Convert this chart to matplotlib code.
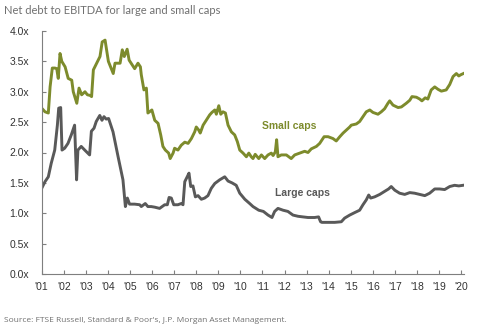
import matplotlib
matplotlib.use("Agg")
import matplotlib.pyplot as plt

# decimal years (offset from 2001) and net debt / EBITDA values
small_t = [0.00, 0.15, 0.30, 0.38, 0.48, 0.60, 0.68, 0.75, 0.83, 0.91, 1.06, 1.20, 1.36, 1.43,
           1.59, 1.69, 1.81, 1.96, 2.07, 2.19, 2.26, 2.34, 2.49, 2.64, 2.74, 2.87, 2.94, 3.02,
           3.24, 3.32, 3.55, 3.65, 3.74, 3.87, 3.96, 4.21, 4.36, 4.47, 4.51, 4.63, 4.74, 4.81,
           4.99, 5.12, 5.27, 5.39, 5.49, 5.60, 5.75, 5.82, 5.95, 6.02, 6.17, 6.32, 6.48, 6.63,
           6.78, 6.93, 7.00, 7.11, 7.18, 7.31, 7.45, 7.61, 7.71, 7.84, 7.91, 8.02, 8.11, 8.21,
           8.32, 8.44, 8.59, 8.74, 8.86, 8.97, 9.12, 9.27, 9.38, 9.49, 9.57, 9.67, 9.83, 9.95,
           10.10, 10.25, 10.40, 10.48, 10.58, 10.64, 10.70, 10.85, 11.08, 11.30, 11.46, 11.68,
           11.91, 12.06, 12.21, 12.44, 12.59, 12.79, 12.97, 13.19, 13.34, 13.50, 13.65, 13.80,
           13.95, 14.02, 14.25, 14.40, 14.55, 14.70, 14.86, 15.00, 15.23, 15.38, 15.53, 15.68,
           15.76, 15.91, 16.14, 16.29, 16.51, 16.67, 16.77, 16.97, 17.12, 17.22, 17.37, 17.49,
           17.64, 17.80, 17.95, 18.10, 18.32, 18.48, 18.63, 18.78, 18.89, 18.98, 19.10]
small_v = [2.73, 2.67, 2.65, 3.08, 3.39, 3.39, 3.38, 3.22, 3.63, 3.50, 3.41, 3.22, 3.19, 3.00,
           2.81, 3.06, 2.95, 3.00, 2.95, 2.94, 2.92, 3.36, 3.47, 3.58, 3.82, 3.85, 3.69, 3.50,
           3.30, 3.47, 3.47, 3.69, 3.58, 3.70, 3.52, 3.38, 3.47, 3.41, 3.28, 3.03, 3.06, 2.65,
           2.70, 2.53, 2.48, 2.29, 2.10, 2.04, 1.99, 1.90, 1.99, 2.07, 2.04, 2.12, 2.17, 2.15,
           2.23, 2.34, 2.42, 2.37, 2.32, 2.45, 2.53, 2.62, 2.66, 2.70, 2.63, 2.77, 2.63, 2.67,
           2.65, 2.45, 2.34, 2.29, 2.18, 2.04, 1.99, 1.93, 1.99, 1.93, 1.90, 1.97, 1.90, 1.96,
           1.90, 1.96, 1.99, 1.95, 2.01, 2.21, 1.93, 1.96, 1.96, 1.90, 1.96, 1.99,
           2.02, 2.00, 2.06, 2.10, 2.15, 2.26, 2.26, 2.23, 2.19, 2.26, 2.32, 2.37,
           2.42, 2.45, 2.47, 2.51, 2.59, 2.67, 2.70, 2.66, 2.63, 2.67, 2.72, 2.81,
           2.85, 2.78, 2.74, 2.75, 2.81, 2.86, 2.92, 2.91, 2.88, 2.85, 2.90, 2.88,
           3.03, 3.08, 3.04, 3.01, 3.03, 3.12, 3.25, 3.30, 3.26, 3.28, 3.30]

large_t = [0.00, 0.15, 0.30, 0.43, 0.59, 0.71, 0.77, 0.86, 0.92, 1.04, 1.19, 1.34, 1.49, 1.58,
           1.64, 1.79, 1.95, 2.17, 2.25, 2.37, 2.47, 2.63, 2.73, 2.82, 2.92, 3.03, 3.23, 3.46,
           3.68, 3.79, 3.88, 3.98, 4.21, 4.44, 4.51, 4.69, 4.81, 4.96, 5.12, 5.34, 5.57, 5.69,
           5.77, 5.87, 5.98, 6.17, 6.32, 6.40, 6.48, 6.59, 6.67, 6.75, 6.85, 6.96, 7.08, 7.23,
           7.38, 7.53, 7.68, 7.84, 8.06, 8.29, 8.44, 8.62, 8.81, 8.97, 9.20, 9.42, 9.57, 9.83,
           10.04, 10.25, 10.43, 10.55, 10.70, 10.93, 11.15, 11.38, 11.61, 11.83, 12.06, 12.36,
           12.54, 12.63, 12.69, 12.97, 13.27, 13.57, 13.72, 13.95, 14.17, 14.40, 14.55, 14.70,
           14.81, 14.90, 15.08, 15.31, 15.53, 15.71, 15.83, 15.99, 16.21, 16.44, 16.67, 16.89,
           17.12, 17.35, 17.57, 17.80, 18.02, 18.25, 18.48, 18.70, 18.89, 19.08]
large_v = [1.41, 1.52, 1.60, 1.82, 2.04, 2.45, 2.73, 2.74, 2.04, 2.07, 2.15, 2.29, 2.45, 1.55,
           2.04, 2.10, 2.04, 1.96, 2.35, 2.40, 2.51, 2.61, 2.53, 2.59, 2.55, 2.56, 2.34, 1.93,
           1.55, 1.11, 1.25, 1.15, 1.15, 1.14, 1.11, 1.16, 1.11, 1.11, 1.10, 1.08, 1.14, 1.14,
           1.26, 1.25, 1.14, 1.14, 1.16, 1.14, 1.52, 1.60, 1.66, 1.44, 1.45, 1.27, 1.29, 1.23,
           1.25, 1.29, 1.41, 1.49, 1.55, 1.60, 1.53, 1.50, 1.46, 1.33, 1.23, 1.16, 1.11, 1.05,
           1.03, 0.97, 0.93, 1.03, 1.08, 1.05, 1.03, 0.97, 0.95, 0.94, 0.93, 0.93,
           0.94, 0.86, 0.85, 0.85, 0.85, 0.86, 0.92, 0.97, 1.01, 1.05, 1.14, 1.22,
           1.30, 1.25, 1.27, 1.31, 1.36, 1.40, 1.44, 1.38, 1.33, 1.31, 1.34, 1.33,
           1.31, 1.29, 1.33, 1.40, 1.40, 1.39, 1.44, 1.46, 1.45, 1.46]

years = list(range(2001, 2021))
year_labels = ["'%02d" % (y % 100) for y in years]
y_ticks = [0.0, 0.5, 1.0, 1.5, 2.0, 2.5, 3.0, 3.5, 4.0]

green = '#7d8b2c'
grey = '#595959'

fig = plt.figure(figsize=(4.79, 3.28), dpi=100)
ax = fig.add_axes([41.7 / 479, 54 / 328, (464 - 41.7) / 479, 243 / 328])

ax.plot([2001 + t for t in small_t], small_v, color=green, lw=2.1, solid_joinstyle='round')
ax.plot([2001 + t for t in large_t], large_v, color=grey, lw=2.1, solid_joinstyle='round')

ax.set_xlim(2001, 2001 + (464 - 41.7) / 22.08)
ax.set_ylim(0, 4)
ax.set_xticks(years)
ax.set_xticklabels(year_labels)
ax.set_yticks(y_ticks)
ax.set_yticklabels(['%.1fx' % v for v in y_ticks])

for s in ['top', 'right']:
    ax.spines[s].set_visible(False)
for s in ['left', 'bottom']:
    ax.spines[s].set_color('#7f7f7f')
    ax.spines[s].set_linewidth(0.8)
ax.tick_params(axis='both', direction='in', length=3, width=0.8, color='#7f7f7f',
               labelsize=7.5, labelcolor='#333333')
ax.tick_params(axis='y', pad=9)
ax.tick_params(axis='x', pad=6)
for lab in ax.get_xticklabels() + ax.get_yticklabels():
    lab.set_family('Liberation Sans')

ax.text(2012.2, 2.44, 'Small caps', color=green, fontsize=7.5, fontweight='bold',
        ha='center', va='center', family='Liberation Sans')
ax.text(2012.8, 1.33, 'Large caps', color=grey, fontsize=7.5, fontweight='bold',
        ha='center', va='center', family='Liberation Sans')

fig.text(4 / 479, 1 - 10 / 328, 'Net debt to EBITDA for large and small caps',
         color='#707070', fontsize=8.0, ha='left', va='center', family='Lato')
fig.text(4 / 479, 1 - 320 / 328,
         "Source: FTSE Russell, Standard & Poor's, J.P. Morgan Asset Management.",
         color='#707070', fontsize=6, ha='left', va='center', family='Open Sans')

fig.savefig('out.png', dpi=100)
